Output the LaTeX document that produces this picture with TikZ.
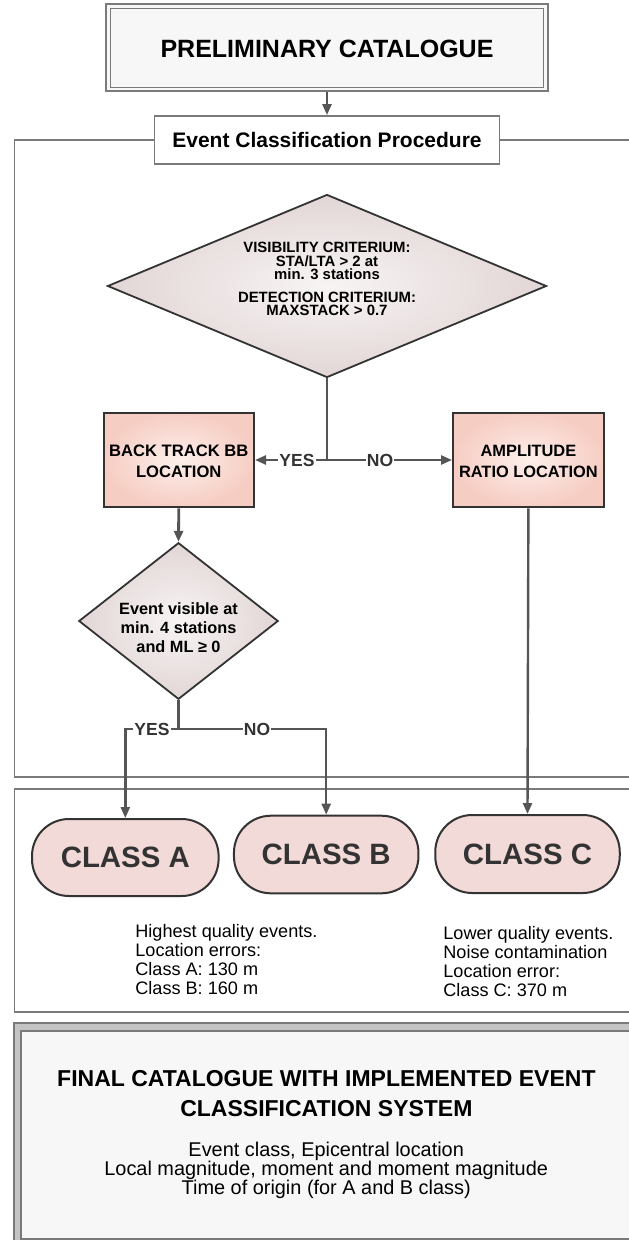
\documentclass[tikz,border=0pt]{standalone}
\usepackage{fontspec}
\setmainfont{Liberation Sans}
\usetikzlibrary{shapes.geometric,arrows.meta,calc}
\definecolor{conngray}{HTML}{555555}
\definecolor{framegray}{HTML}{7A7A7A}
\definecolor{darkedge}{HTML}{333333}
\definecolor{boxedge}{HTML}{F6CDC3}
\definecolor{boxmid}{HTML}{FDEFEB}
\definecolor{diaedge}{HTML}{E2D6D6}
\definecolor{diamid}{HTML}{F8F4F4}
\definecolor{classfill}{HTML}{F2DAD8}
\definecolor{bandgray}{HTML}{C4C4C4}
\definecolor{panelgray}{HTML}{F7F7F7}
\newcommand{\fsz}[2]{\fontsize{#1}{#2}\selectfont}
\tikzset{
  frame/.style={draw=framegray, line width=1.8pt},
  conn/.style={draw=conngray, line width=2.4pt},
  arr/.style={conn, -{Triangle[width=9pt,length=11pt]}},
  procbox/.style={rectangle, draw=darkedge, line width=2pt, inner color=boxmid, outer color=boxedge, inner sep=0pt},
  decision/.style={diamond, draw=darkedge, line width=1.8pt, inner color=diamid, outer color=diaedge, inner sep=0pt},
  classbox/.style={rectangle, rounded corners=37pt, draw=darkedge, line width=2pt, fill=classfill, inner sep=0pt, text=darkedge, font=\bfseries\fsz{29.4}{32}},
  lbl/.style={fill=white, inner sep=1.2pt, text=darkedge, font=\bfseries\fsz{17.5}{19}},
  txt/.style={inner sep=0pt, align=center}
}
\begin{document}
\begin{tikzpicture}[x=1pt,y=-1pt]
\useasboundingbox (0,0) rectangle (629,1240);
\clip (0,0) rectangle (629,1240);
\fill[white] (0,0) rectangle (629,1240);

% frames
\draw[frame] (14.4,140) rectangle (680,777.3);
\draw[frame] (14.4,789.3) rectangle (680,1012.3);

% final panel
\draw[frame, fill=bandgray] (13.6,1022.7) rectangle (690,1260);
\draw[frame, fill=panelgray] (20.9,1030.7) rectangle (690,1239.3);

% top box
\node[rectangle, draw=framegray, line width=2pt, fill=panelgray, minimum width=442pt, minimum height=87pt, inner sep=0pt] (prelim) at (327,47.5) {};
\draw[draw=framegray, line width=1pt] ($(prelim.north west)+(5.5,5)$) rectangle ($(prelim.south east)+(-6,-5)$);
\node[txt, font=\bfseries\fsz{25}{28}] at (327,49) {PRELIMINARY CATALOGUE};

% event classification procedure
\node[rectangle, draw=framegray, line width=1.8pt, fill=white, minimum width=345pt, minimum height=48pt, inner sep=0pt, font=\bfseries\fsz{21}{24}] (ecp) at (327,140) {Event Classification Procedure};
\draw[arr] (prelim.south) -- (ecp.north);

% decision 1
\node[decision, minimum width=439pt, minimum height=183pt] (d1) at (327,286) {};
\node[txt, font=\bfseries\fsz{14.9}{13.8}] (d1t) at (327,279) {VISIBILITY CRITERIUM:\\STA/LTA > 2 at\\min. 3 stations\\[8.5pt]DETECTION CRITERIUM:\\MAXSTACK > 0.7};

% location boxes
\node[procbox, minimum width=150.5pt, minimum height=94.6pt] (back) at (178.75,460) {};
\node[txt, font=\bfseries\fsz{16.6}{21}] at (178.75,461) {BACK TRACK BB\\LOCATION};
\node[procbox, minimum width=150.7pt, minimum height=94.6pt] (amp) at (528.4,460) {};
\node[txt, font=\bfseries\fsz{16.4}{21}] at (528.4,461) {AMPLITUDE\\RATIO LOCATION};

\coordinate (j1) at (327,460);
\draw[conn] (d1.south) -- (j1);
\draw[arr] (j1) -- (back.east);
\draw[arr] (j1) -- (amp.west);
\node[lbl] (yes1) at (297,460) {YES};
\node[lbl] (no1) at (380,460) {NO};

% decision 2
\node[decision, minimum width=199.4pt, minimum height=156.6pt] (d2) at (178.5,621) {};
\node[txt, font=\bfseries\fsz{16.3}{19}] at (178.5,627.5) {Event visible at\\min. 4 stations\\and ML ≥ 0};
\draw[arr, line width=2.8pt] (back.south) -- (d2.north);

% classes
\node[classbox, minimum width=186.6pt, minimum height=77pt] (ca) at (125.3,857.5) {CLASS A};
\node[classbox, minimum width=184.5pt, minimum height=77.6pt] (cb) at (326.2,854.5) {CLASS B};
\node[classbox, minimum width=184.5pt, minimum height=78pt] (cc) at (527.5,854) {CLASS C};

\coordinate (j2) at (178.5,729);
\draw[conn] (d2.south) -- (j2);
\draw[arr] (j2) -| (ca.north);
\draw[arr] (j2) -| (cb.north);
\draw[arr] (amp.south) -- (cc.north);
\node[lbl] (yes2) at (152,729) {YES};
\node[lbl] (no2) at (257,729) {NO};

% descriptions
\node[inner sep=0pt, align=left, anchor=west, font=\fsz{18.1}{19}] (descab) at (135.2,959.4) {Highest quality events.\\Location errors:\\Class A: 130 m\\Class B: 160 m};
\node[inner sep=0pt, align=left, anchor=west, font=\fsz{18.1}{19}] (descc) at (443.2,961.3) {Lower quality events.\\Noise contamination\\Location error:\\Class C: 370 m};

% final catalogue
\node[txt, font=\bfseries\fsz{23}{30}] (fin) at (326.4,1093.3) {FINAL CATALOGUE WITH IMPLEMENTED EVENT\\CLASSIFICATION SYSTEM};
\node[txt, font=\fsz{19.9}{19}] (finb) at (326.2,1170) {Event class, Epicentral location\\Local magnitude, moment and moment magnitude\\Time of origin (for A and B class)};
\end{tikzpicture}
\end{document}
